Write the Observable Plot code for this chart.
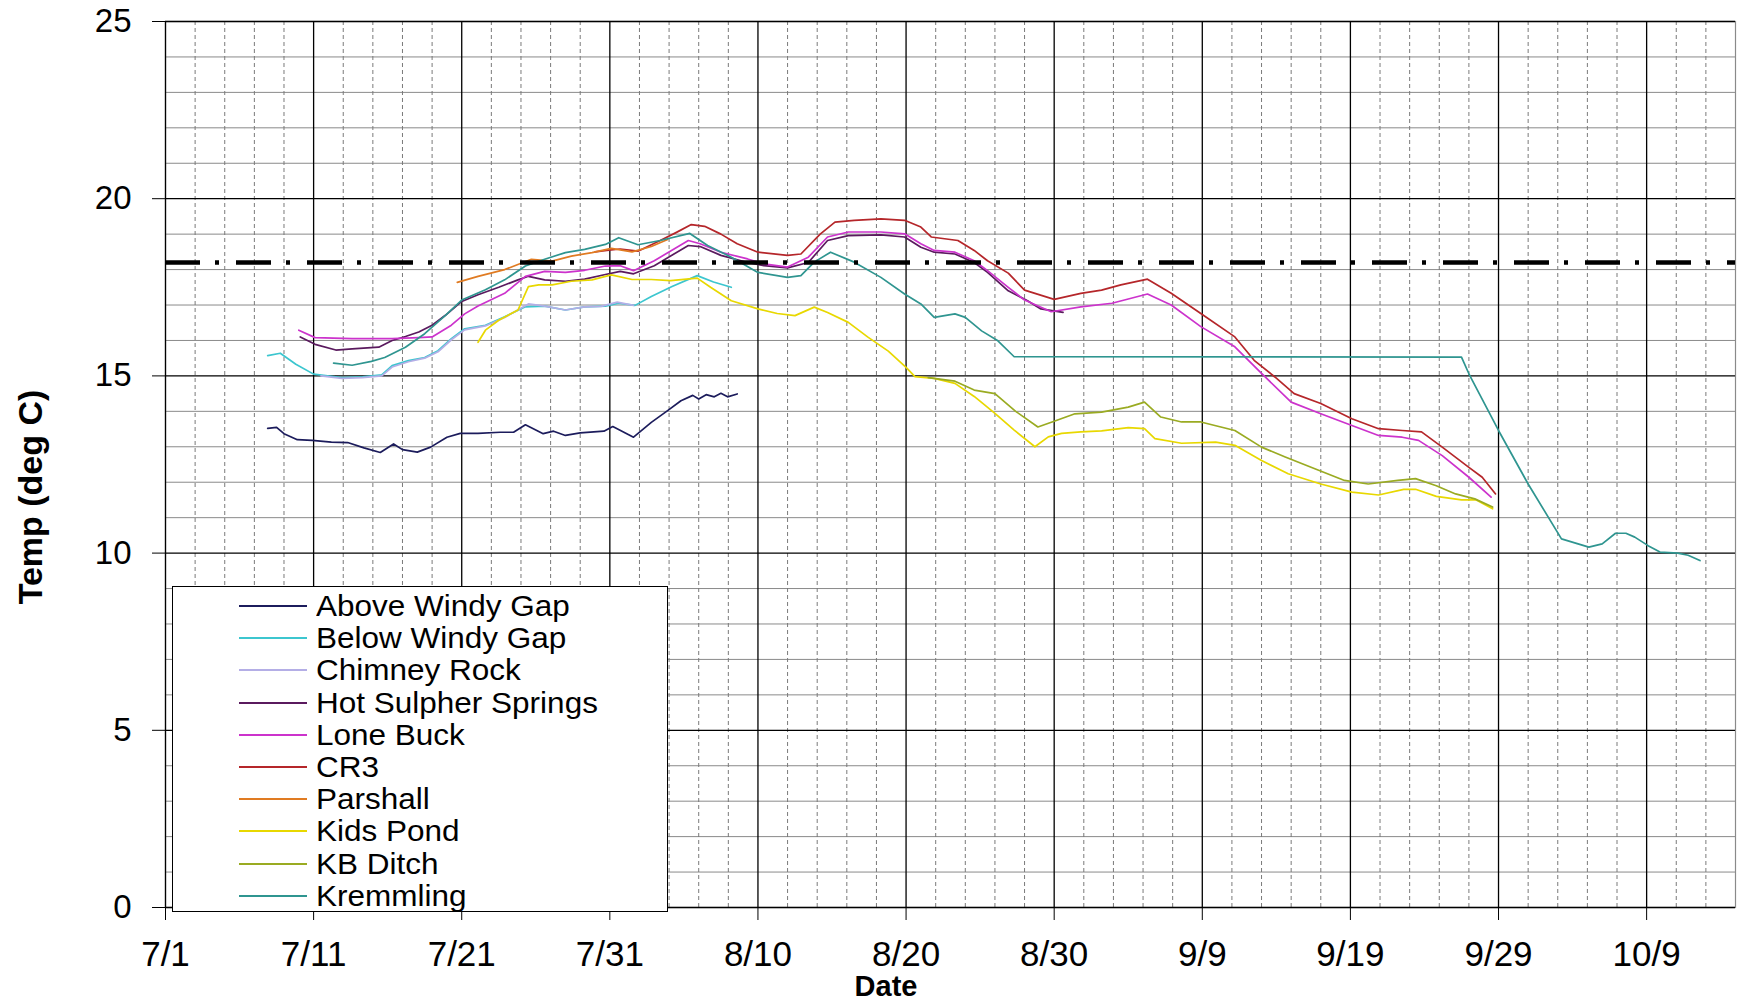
<!DOCTYPE html>
<html>
<head>
<meta charset="utf-8">
<script src="https://cdn.jsdelivr.net/npm/d3@7"></script>
<script src="https://cdn.jsdelivr.net/npm/@observablehq/plot@0.6"></script>
<style>
  html, body { margin: 0; padding: 0; background: #fff; }
  body { font-family: "Liberation Sans", Arial, sans-serif; color: #000; }
  #wrap { position: relative; width: 1744px; height: 1004px; overflow: hidden; }
  #ytitle { position: absolute; left: 30px; top: 497px; transform: translate(-50%, -50%) rotate(-90deg);
            font-weight: bold; font-size: 34px; white-space: nowrap; line-height: 26px; }
  #xtitle { position: absolute; left: 886px; top: 986px; transform: translate(-50%, -50%);
            font-weight: bold; font-size: 29px; white-space: nowrap; line-height: 22px; }
  #legend { position: absolute; left: 172px; top: 586px; width: 494px; height: 321px;
            border: 1.5px solid #000; background: #fff; box-sizing: content-box; padding-top: 3px; }
  .lrow { height: 32.2px; display: flex; align-items: center; font-size: 30px; line-height: 26px; white-space: nowrap; }
  .lrow span { display: inline-block; transform: scaleX(1.05); transform-origin: left center; }
  .lrow svg { margin-left: 66px; margin-right: 9px; }
</style>
</head>
<body>
<div id="wrap">
  <div id="chart"></div>
  <div id="ytitle">Temp (deg C)</div>
  <div id="xtitle">Date</div>
  <div id="legend"></div>
</div>
<script>
// ---- data: [day offset from 7/1, temperature deg C] ----
const seriesNames = ["Above Windy Gap","Below Windy Gap","Chimney Rock","Hot Sulpher Springs","Lone Buck","CR3","Parshall","Kids Pond","KB Ditch","Kremmling"];
const seriesColors = ["#1c1c5c","#3cc6cf","#b4aee6","#5a1a5e","#cc33cc","#b5262a","#e07b22","#e8d800","#9aab22","#2f9590"];

const aboveWindyGap = [[6.9,13.52],[7.5,13.55],[8.0,13.37],[8.9,13.2],[9.9,13.18],[11.2,13.13],[12.3,13.12],[13.4,12.97],[14.5,12.84],[15.4,13.08],[16.0,12.92],[17.0,12.85],[17.9,12.99],[19.0,13.27],[19.9,13.38],[21.1,13.38],[22.6,13.41],[23.5,13.41],[24.3,13.62],[25.5,13.37],[26.2,13.44],[27.0,13.32],[28.0,13.39],[29.6,13.44],[30.2,13.57],[31.6,13.27],[32.8,13.69],[33.9,14.02],[34.8,14.3],[35.6,14.45],[36.0,14.35],[36.5,14.47],[37.05,14.41],[37.5,14.51],[37.95,14.41],[38.6,14.49]];
const belowWindyGap = [[6.9,15.57],[7.75,15.64],[8.8,15.33],[10.0,15.05],[11.9,14.95],[13.3,14.97],[14.6,15.03],[15.3,15.29],[16.4,15.43],[17.5,15.52],[18.4,15.71],[19.3,16.05],[20.2,16.33],[21.6,16.43],[22.9,16.67],[24.3,16.95],[25.6,16.97],[27.0,16.86],[28.3,16.95],[29.7,16.97],[30.6,17.05],[31.7,16.99],[32.8,17.24],[34.2,17.52],[35.9,17.83],[37.0,17.65],[38.2,17.5]];
const chimneyRock = [[10.5,15.0],[11.9,14.93],[13.3,14.95],[14.6,15.0],[15.3,15.25],[16.4,15.4],[17.5,15.5],[18.4,15.68],[19.3,16.02],[20.2,16.3],[21.6,16.41],[22.9,16.65],[24.5,17.03],[25.6,16.97],[27.0,16.86],[28.3,16.95],[29.4,16.96],[30.5,17.08],[31.6,16.99]];
const hotSulpherSprings = [[9.1,16.1],[10.1,15.89],[11.5,15.73],[12.6,15.76],[14.4,15.81],[15.3,16.0],[16.2,16.11],[17.1,16.24],[18.0,16.43],[18.9,16.71],[20.0,17.1],[21.1,17.29],[22.5,17.5],[23.8,17.71],[24.5,17.81],[25.6,17.71],[27.0,17.67],[28.3,17.73],[29.7,17.86],[30.7,17.95],[31.6,17.88],[33.0,18.11],[35.3,18.68],[36.1,18.65],[37.5,18.4],[39.3,18.2],[40.4,18.11],[42.0,18.05],[43.4,18.2],[44.7,18.82],[46.1,18.96],[48.3,18.98],[49.9,18.92],[51.0,18.63],[51.9,18.49],[53.3,18.44],[54.6,18.2],[55.5,17.92],[56.9,17.4],[58.2,17.12],[59.1,16.89],[60.6,16.79]];
const loneBuck = [[9.0,16.29],[10.1,16.08],[12.6,16.05],[15.3,16.05],[17.1,16.08],[18.0,16.1],[19.3,16.43],[20.2,16.75],[21.1,16.97],[22.9,17.33],[24.3,17.81],[25.6,17.95],[27.0,17.92],[28.3,17.98],[29.7,18.1],[30.7,18.11],[31.6,17.97],[33.0,18.25],[35.3,18.82],[36.1,18.73],[37.5,18.49],[39.3,18.3],[40.4,18.16],[42.0,18.07],[43.4,18.35],[44.7,18.92],[46.1,19.06],[48.3,19.06],[49.9,19.01],[51.0,18.73],[51.9,18.54],[53.3,18.49],[54.6,18.25],[55.5,17.97],[56.9,17.5],[58.0,17.14],[59.8,16.81],[61.8,16.95],[63.9,17.05],[66.3,17.31],[67.9,17.0],[69.9,16.39],[72.2,15.82],[74.0,15.07],[76.0,14.26],[78.0,13.93],[80.1,13.6],[81.9,13.32],[83.5,13.27],[84.6,13.18],[86.2,12.75],[88.0,12.14],[89.5,11.58]];
const cr3 = [[29.0,18.5],[29.8,18.54],[30.7,18.58],[31.9,18.52],[33.4,18.82],[34.5,19.05],[35.5,19.27],[36.4,19.22],[37.5,19.0],[38.6,18.73],[40.0,18.49],[42.0,18.4],[42.9,18.44],[44.2,19.0],[45.2,19.34],[46.5,19.39],[48.3,19.43],[49.9,19.39],[51.0,19.2],[51.7,18.92],[53.5,18.82],[54.6,18.54],[55.5,18.25],[56.9,17.9],[58.0,17.42],[60.0,17.16],[61.8,17.33],[63.2,17.42],[64.5,17.57],[66.3,17.73],[67.9,17.33],[69.9,16.76],[72.2,16.1],[73.5,15.44],[74.9,14.97],[76.2,14.5],[78.0,14.22],[80.1,13.79],[81.9,13.51],[83.5,13.46],[84.8,13.42],[86.2,12.99],[88.0,12.42],[88.9,12.14],[89.8,11.67]];
const parshall = [[19.7,17.64],[21.1,17.81],[22.9,18.0],[24.7,18.29],[26.1,18.24],[27.4,18.38],[28.8,18.48],[30.1,18.6],[31.5,18.5],[32.8,18.65],[33.9,18.85]];
const kidsPond = [[21.1,15.95],[21.6,16.29],[22.5,16.57],[23.8,16.86],[24.5,17.52],[25.2,17.57],[26.1,17.57],[27.4,17.67],[28.8,17.71],[30.1,17.85],[31.5,17.72],[32.8,17.72],[34.1,17.69],[35.9,17.76],[36.8,17.5],[38.2,17.12],[40.0,16.89],[41.3,16.76],[42.5,16.7],[43.8,16.94],[44.7,16.79],[46.1,16.51],[47.4,16.1],[48.8,15.7],[50.0,15.24],[50.6,14.98],[51.9,14.93],[53.3,14.79],[54.6,14.42],[56.0,13.94],[57.3,13.47],[58.7,13.0],[59.6,13.28],[60.5,13.38],[61.8,13.42],[63.2,13.45],[65.0,13.54],[66.1,13.51],[66.8,13.23],[68.6,13.1],[70.9,13.13],[72.2,13.04],[74.0,12.61],[75.8,12.24],[78.0,11.95],[80.1,11.72],[81.9,11.64],[83.6,11.8],[84.4,11.8],[85.8,11.6],[87.5,11.5],[88.5,11.5],[89.6,11.25]];
const kbDitch = [[51.5,14.95],[53.3,14.85],[54.6,14.6],[56.0,14.5],[57.4,14.0],[58.9,13.56],[60.0,13.72],[61.4,13.93],[63.2,13.98],[65.0,14.12],[66.1,14.26],[67.2,13.84],[68.6,13.7],[69.9,13.7],[72.2,13.46],[74.0,12.99],[75.6,12.71],[77.6,12.38],[79.6,12.05],[81.2,11.95],[83.2,12.05],[84.4,12.1],[85.8,11.9],[87.1,11.67],[88.4,11.53],[89.6,11.3]];
const kremmling = [[11.35,15.36],[12.6,15.3],[13.9,15.41],[14.8,15.52],[16.2,15.81],[17.5,16.19],[18.9,16.71],[20.0,17.14],[21.6,17.43],[22.9,17.71],[24.3,18.1],[25.6,18.29],[27.0,18.48],[28.3,18.57],[29.7,18.71],[30.6,18.9],[31.9,18.7],[33.4,18.82],[35.4,19.02],[36.6,18.68],[38.2,18.35],[40.0,17.92],[42.0,17.78],[42.9,17.83],[43.8,18.21],[44.9,18.49],[46.5,18.21],[48.3,17.78],[49.9,17.31],[51.0,17.03],[51.9,16.65],[53.3,16.75],[54.0,16.65],[55.1,16.27],[56.2,15.99],[57.3,15.54],[87.5,15.53],[88.0,15.06],[90.0,13.46],[92.0,11.95],[94.25,10.4],[96.1,10.17],[97.0,10.26],[97.9,10.56],[98.6,10.56],[99.2,10.45],[100.1,10.21],[100.9,10.03],[102.1,10.0],[102.8,9.94],[103.6,9.79]];

const threshold = 18.2;
const yTicks = [0, 5, 10, 15, 20, 25];
const xTickLabels = ["7/1","7/11","7/21","7/31","8/10","8/20","8/30","9/9","9/19","9/29","10/9"];
const year = 2008;
const domainEndLabel = "10/15";

// ---- build table ----
const dayMs = 864e5;
const parseMD = s => { const [m, d] = s.split("/").map(Number); return new Date(Date.UTC(year, m - 1, d)); };
const start = parseMD(xTickLabels[0]);
const end = parseMD(domainEndLabel);
const allSeries = [aboveWindyGap, belowWindyGap, chimneyRock, hotSulpherSprings, loneBuck, cr3, parshall, kidsPond, kbDitch, kremmling];
const rows = [];
allSeries.forEach((arr, i) => arr.forEach(([d, t]) => rows.push({series: seriesNames[i], date: new Date(+start + d * dayMs), temp: t})));

const xTickDates = xTickLabels.map(parseMD);
const nDays = Math.round((end - start) / dayMs);
const minorX = d3.range(0, nDays + 1, 2).filter(d => d % 10 !== 0).map(d => new Date(+start + d * dayMs));
const majorX = d3.range(0, nDays + 1, 10).map(d => new Date(+start + d * dayMs));
const minorY = d3.range(yTicks[0], yTicks[yTicks.length - 1] + 1, 1).filter(v => v % 5 !== 0);

const chart = Plot.plot({
  width: 1744, height: 1004,
  marginLeft: 165, marginRight: 9, marginTop: 21, marginBottom: 97,
  style: {fontFamily: '"Liberation Sans", Arial, sans-serif', color: "#000", background: "#fff"},
  x: {type: "utc", domain: [start, end]},
  y: {domain: [0, 25]},
  color: {domain: seriesNames, range: seriesColors},
  marks: [
    Plot.ruleY(minorY, {stroke: "#8a8a8a", strokeWidth: 1}),
    Plot.ruleX(minorX, {stroke: "#7a7a7a", strokeWidth: 1, strokeDasharray: "4,3"}),
    Plot.frame({stroke: "#8a8a8a", strokeWidth: 1.2}),
    Plot.ruleY(yTicks, {stroke: "#000", strokeWidth: 1.3}),
    Plot.ruleX(majorX, {stroke: "#000", strokeWidth: 1.3}),
    Plot.line(rows, {x: "date", y: "temp", z: "series", stroke: "series", strokeWidth: 1.7, curve: "linear"}),
    Plot.ruleY([threshold], {stroke: "#000", strokeWidth: 4.5, strokeDasharray: "35,15,4,17"}),
    Plot.axisY(yTicks, {tickSize: 13, tickPadding: 21, fontSize: 33, label: null, stroke: "#000"}),
    Plot.axisX(xTickDates, {tickSize: 13, tickPadding: 21, fontSize: 35, label: null, tickFormat: d3.utcFormat("%-m/%-d"), stroke: "#000"})
  ]
});
document.getElementById("chart").appendChild(chart);

// ---- legend ----
const legend = document.getElementById("legend");
seriesNames.forEach((name, i) => {
  const row = document.createElement("div");
  row.className = "lrow";
  row.innerHTML = `<svg width="68" height="4"><line x1="0" y1="2" x2="68" y2="2" stroke="${seriesColors[i]}" stroke-width="2"/></svg><span>${name}</span>`;
  legend.appendChild(row);
});
</script>
</body>
</html>
